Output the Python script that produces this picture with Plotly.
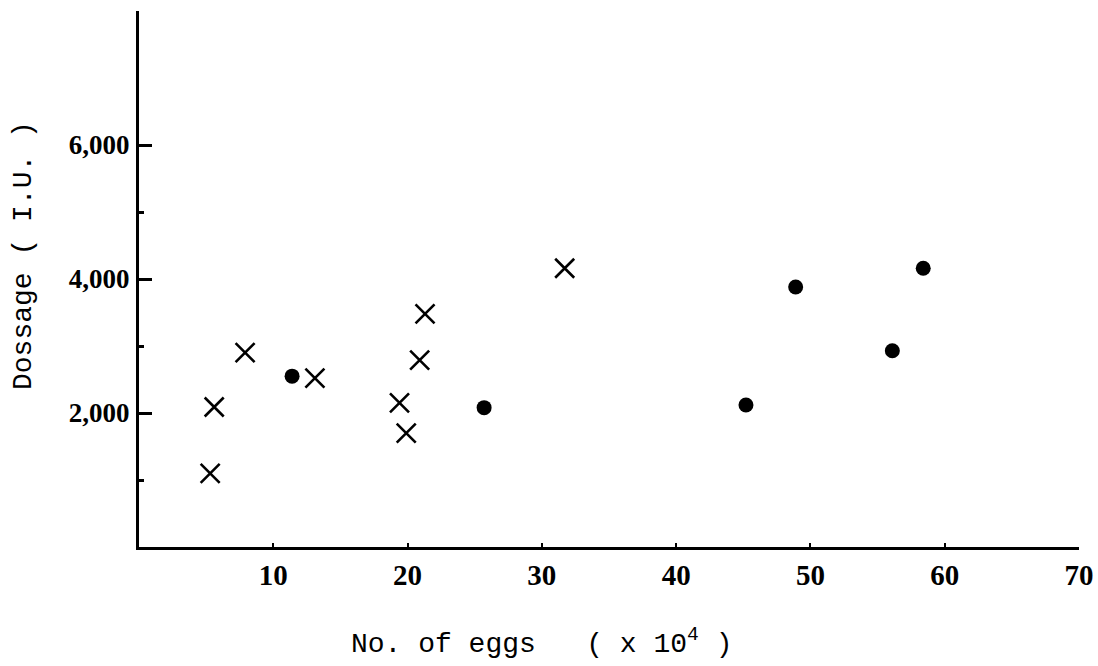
import plotly.graph_objects as go

# Data
cross_x = [5.3, 5.6, 7.9, 13.1, 19.4, 19.9, 20.9, 21.3, 31.7]
cross_y = [1100, 2090, 2900, 2520, 2150, 1700, 2790, 3480, 4160]
dot_x = [11.4, 25.7, 45.2, 48.9, 56.1, 58.4]
dot_y = [2550, 2080, 2120, 3880, 2930, 4160]

x_ticks = [10, 20, 30, 40, 50, 60, 70]
y_major = [2000, 4000, 6000]
y_major_text = ["2,000", "4,000", "6,000"]
y_minor = [1000, 3000, 5000]

fig = go.Figure()
fig.add_trace(go.Scatter(
    x=cross_x, y=cross_y, mode="markers",
    marker=dict(symbol="x-thin", size=19, color="black",
                line=dict(width=2.6, color="black")),
    showlegend=False))
fig.add_trace(go.Scatter(
    x=dot_x, y=dot_y, mode="markers",
    marker=dict(symbol="circle", size=15, color="black", line=dict(width=0)),
    showlegend=False))

W, H = 1098, 666
L, R, T, B = 139, 19, 11, 119
pw, ph = W - L - R, H - T - B

fig.update_layout(
    width=W, height=H,
    margin=dict(l=L, r=R, t=T, b=B, autoexpand=False),
    paper_bgcolor="white", plot_bgcolor="white",
    showlegend=False,
    xaxis=dict(
        range=[0, 70], tickvals=x_ticks, ticktext=[str(v) for v in x_ticks],
        ticks="inside", ticklen=4, tickwidth=2, tickcolor="black",
        showline=True, linewidth=3, linecolor="black",
        showgrid=False, zeroline=False, automargin=False,
        tickfont=dict(family="Liberation Serif", size=29, color="black", weight="bold"),
        ticklabelstandoff=0,
    ),
    yaxis=dict(
        range=[0, 8000], tickvals=y_major, ticktext=y_major_text,
        ticks="inside", ticklen=13, tickwidth=2.5, tickcolor="black",
        minor=dict(tickvals=y_minor, ticks="inside", ticklen=5, tickwidth=2.5, tickcolor="black", showgrid=False),
        showline=True, linewidth=3, linecolor="black",
        showgrid=False, zeroline=False, automargin=False,
        tickfont=dict(family="Liberation Serif", size=27, color="black", weight="bold"),
        ticklabelstandoff=1,
    ),
    annotations=[
        dict(text="Dossage ( I.U. )", textangle=-90,
             xref="paper", yref="paper",
             x=(23 - L) / pw, y=(H - B - 256) / ph,
             xanchor="center", yanchor="middle", showarrow=False,
             font=dict(family="Liberation Mono", size=28, color="black")),
        dict(text="No. of eggs   ( x 10<sup>4</sup> )",
             xref="paper", yref="paper",
             x=(349 - L) / pw, y=(H - B - 642) / ph,
             xanchor="left", yanchor="middle", showarrow=False,
             font=dict(family="Liberation Mono", size=28, color="black")),
    ],
)

fig.write_html(
    "out.html",
    config={"displayModeBar": False},
    post_script="document.body.style.margin='0';document.body.style.overflow='hidden';",
)
